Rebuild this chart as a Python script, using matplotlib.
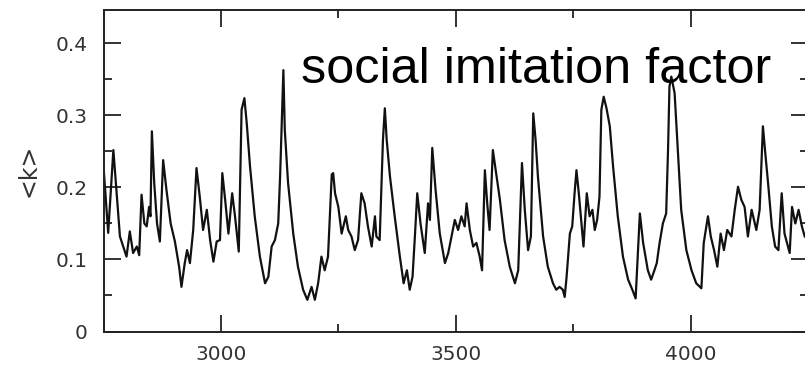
import matplotlib
matplotlib.use('Agg')
import matplotlib.pyplot as plt
from matplotlib.ticker import MultipleLocator

# time step and <k>
steps = [2751, 2760, 2771, 2785, 2792, 2799, 2806, 2813, 2821, 2826,
         2831, 2837, 2842, 2847, 2850, 2853, 2858, 2864, 2870, 2877,
         2884, 2893, 2902, 2911, 2916, 2923, 2928, 2934, 2941, 2948,
         2955, 2962, 2970, 2977, 2984, 2991, 2998, 3003, 3009, 3016,
         3024, 3030, 3038, 3044, 3050, 3055, 3062, 3072, 3083, 3094,
         3101, 3108, 3115, 3122, 3126, 3133, 3136, 3143, 3154, 3164,
         3175, 3184, 3193, 3200, 3207, 3214, 3221, 3228, 3236, 3239,
         3243, 3250, 3257, 3266, 3271, 3278, 3285, 3292, 3299, 3306,
         3313, 3321, 3328, 3331, 3338, 3345, 3349, 3353, 3360, 3370,
         3381, 3389, 3396, 3402, 3408, 3413, 3418, 3425, 3434, 3441,
         3445, 3450, 3457, 3466, 3477, 3484, 3491, 3498, 3505, 3512,
         3519, 3523, 3530, 3537, 3544, 3551, 3556, 3562, 3567, 3572,
         3579, 3584, 3594, 3604, 3615, 3626, 3633, 3641, 3647, 3654,
         3660, 3665, 3670, 3675, 3686, 3696, 3707, 3714, 3721, 3728,
         3732, 3736, 3743, 3748, 3753, 3757, 3762, 3767, 3772, 3779,
         3785, 3791, 3796, 3801, 3806, 3810, 3815, 3821, 3828, 3835,
         3845, 3856, 3867, 3876, 3883, 3888, 3892, 3899, 3909, 3916,
         3923, 3928, 3934, 3941, 3948, 3952, 3955, 3959, 3966, 3973,
         3980, 3991, 4002, 4012, 4023, 4028, 4037, 4043, 4050, 4057,
         4064, 4071, 4078, 4087, 4094, 4101, 4108, 4115, 4122, 4130,
         4140, 4147, 4154, 4159, 4165, 4173, 4180, 4187, 4194, 4200,
         4211, 4216, 4223, 4230, 4237, 4243, 4255]
k_mean = [0.220, 0.137, 0.252, 0.132, 0.118, 0.104, 0.139, 0.109, 0.118, 0.106,
          0.190, 0.150, 0.146, 0.173, 0.160, 0.278, 0.206, 0.150, 0.125, 0.238,
          0.197, 0.150, 0.125, 0.090, 0.062, 0.095, 0.113, 0.095, 0.141, 0.227,
          0.187, 0.141, 0.169, 0.127, 0.097, 0.125, 0.127, 0.220, 0.183, 0.136,
          0.192, 0.160, 0.111, 0.308, 0.324, 0.289, 0.229, 0.160, 0.104, 0.067,
          0.076, 0.118, 0.127, 0.150, 0.215, 0.363, 0.280, 0.206, 0.136, 0.090,
          0.058, 0.044, 0.062, 0.044, 0.067, 0.104, 0.085, 0.104, 0.218, 0.220,
          0.192, 0.173, 0.136, 0.160, 0.141, 0.132, 0.113, 0.127, 0.192, 0.178,
          0.146, 0.118, 0.160, 0.132, 0.127, 0.266, 0.310, 0.266, 0.215, 0.160,
          0.104, 0.067, 0.085, 0.058, 0.076, 0.132, 0.192, 0.150, 0.109, 0.178,
          0.155, 0.255, 0.197, 0.136, 0.095, 0.109, 0.132, 0.155, 0.141, 0.160,
          0.146, 0.178, 0.141, 0.118, 0.123, 0.104, 0.085, 0.224, 0.178, 0.141,
          0.252, 0.229, 0.183, 0.127, 0.090, 0.067, 0.085, 0.234, 0.169, 0.113,
          0.132, 0.303, 0.266, 0.215, 0.132, 0.090, 0.067, 0.058, 0.062, 0.058,
          0.048, 0.076, 0.136, 0.146, 0.192, 0.224, 0.192, 0.155, 0.118, 0.192,
          0.160, 0.169, 0.141, 0.155, 0.187, 0.308, 0.326, 0.310, 0.285, 0.229,
          0.160, 0.104, 0.072, 0.058, 0.046, 0.113, 0.164, 0.123, 0.085, 0.072,
          0.085, 0.095, 0.123, 0.150, 0.164, 0.252, 0.340, 0.354, 0.331, 0.250,
          0.169, 0.113, 0.085, 0.067, 0.060, 0.123, 0.160, 0.132, 0.113, 0.090,
          0.136, 0.113, 0.141, 0.132, 0.169, 0.201, 0.183, 0.173, 0.132, 0.169,
          0.141, 0.169, 0.285, 0.248, 0.206, 0.146, 0.118, 0.113, 0.192, 0.136,
          0.109, 0.173, 0.150, 0.169, 0.146, 0.132, 0.125]

x_ticks = [3000, 3500, 4000]
y_ticks = [0, 0.1, 0.2, 0.3, 0.4]
y_tick_labels = ['0', '0.1', '0.2', '0.3', '0.4']

fig = plt.figure(figsize=(8.05, 3.71), dpi=100)
W, H = 805.0, 371.0
ax = fig.add_axes([103.5 / W, (H - 331.5) / H, (808 - 103.5) / W, (331.5 - 10) / H])

ax.plot(steps, k_mean, color='#111111', lw=1.6)

ax.set_xlim(2750, 4250)
ax.set_ylim(0, 0.4465)
ax.set_xticks(x_ticks)
ax.set_yticks(y_ticks)
ax.set_yticklabels(y_tick_labels)
ax.xaxis.set_minor_locator(MultipleLocator(250))
ax.yaxis.set_minor_locator(MultipleLocator(0.05))

ax.tick_params(which='both', direction='in', top=True, right=True,
               color='#222222', width=1.3, labelsize=14.5, labelcolor='#333333')
ax.tick_params(which='major', length=12.2)
ax.tick_params(which='minor', length=5.8)
ax.tick_params(axis='y', pad=11.5)
ax.tick_params(axis='x', pad=10)
for s in ax.spines.values():
    s.set_linewidth(1.4)
    s.set_color('#222222')

ax.set_ylabel('<k>', fontsize=17, color='#333333')
ax.yaxis.set_label_coords(-0.09, 0.502)

ax.text(0.28, 0.774, 'social imitation factor', transform=ax.transAxes,
        fontsize=36.3, family='Liberation Sans', color='black', va='baseline')

fig.savefig('out.png', dpi=100)
